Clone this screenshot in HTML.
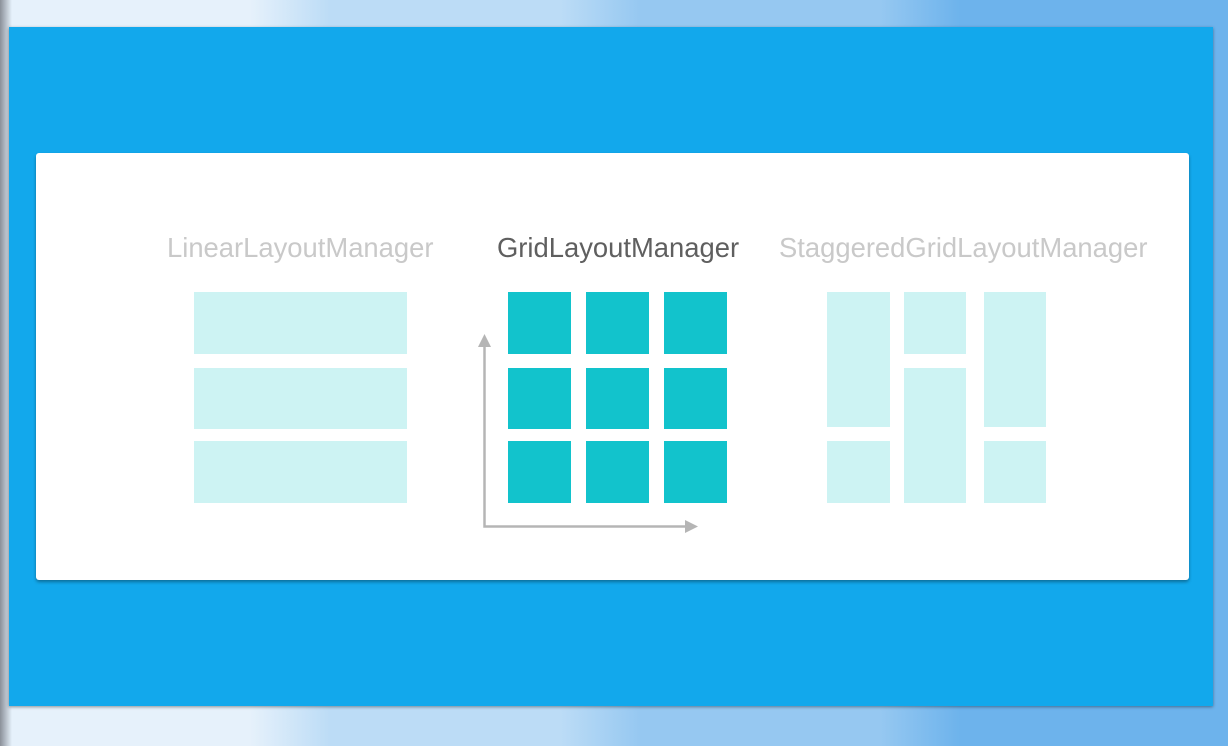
<!DOCTYPE html>
<html><head><style>
body{margin:0;width:1228px;height:746px;overflow:hidden;position:relative;
background:linear-gradient(90deg,#8a9099 0,#e6f1fb 12px,#e6f1fb 250px,#bcdcf6 330px,#bcdcf6 560px,#96c8f1 640px,#96c8f1 880px,#6db3ec 960px,#6db3ec 1228px);font-family:"Liberation Sans",sans-serif}
.panel{position:absolute;left:9px;top:27px;width:1204px;height:679px;background:#12a8ec;box-shadow:0 1px 3px rgba(0,0,0,.4)}
.card{position:absolute;left:36px;top:153px;width:1153px;height:427px;background:#fff;border-radius:3px;box-shadow:0 2px 3px rgba(0,0,0,.35)}
.r{position:absolute}
.l{background:#cdf3f3}.g{background:#12c3cc}
.t{position:absolute;top:232px;font-size:27.4px;line-height:32px;color:#c9c9c9;white-space:nowrap}
</style></head><body>
<div class="panel"></div><div class="card"></div>
<div class="t" style="left:167px">LinearLayoutManager</div>
<div class="t" style="left:497px;color:#5f5f5f">GridLayoutManager</div>
<div class="t" style="left:779px">StaggeredGridLayoutManager</div>
<div class="r l" style="left:194px;top:292px;width:213px;height:62px"></div>
<div class="r l" style="left:194px;top:368px;width:213px;height:61px"></div>
<div class="r l" style="left:194px;top:441px;width:213px;height:62px"></div>
<div class="r g" style="left:508px;top:292px;width:63px;height:62px"></div>
<div class="r g" style="left:586px;top:292px;width:63px;height:62px"></div>
<div class="r g" style="left:664px;top:292px;width:63px;height:62px"></div>
<div class="r g" style="left:508px;top:368px;width:63px;height:61px"></div>
<div class="r g" style="left:586px;top:368px;width:63px;height:61px"></div>
<div class="r g" style="left:664px;top:368px;width:63px;height:61px"></div>
<div class="r g" style="left:508px;top:441px;width:63px;height:62px"></div>
<div class="r g" style="left:586px;top:441px;width:63px;height:62px"></div>
<div class="r g" style="left:664px;top:441px;width:63px;height:62px"></div>
<div class="r l" style="left:827px;top:292px;width:63px;height:135px"></div>
<div class="r l" style="left:827px;top:441px;width:63px;height:62px"></div>
<div class="r l" style="left:904px;top:292px;width:62px;height:62px"></div>
<div class="r l" style="left:904px;top:368px;width:62px;height:135px"></div>
<div class="r l" style="left:984px;top:292px;width:62px;height:135px"></div>
<div class="r l" style="left:984px;top:441px;width:62px;height:62px"></div>
<svg class="r" style="left:0;top:0" width="1228" height="746">
<path d="M484.5 342 V526.5 H690" fill="none" stroke="#b5b5b5" stroke-width="2.5"/>
<path d="M478 347 L484.5 334 L491 347Z" fill="#b5b5b5"/>
<path d="M685 520 L698 526.5 L685 533Z" fill="#b5b5b5"/>
</svg>
</body></html>
